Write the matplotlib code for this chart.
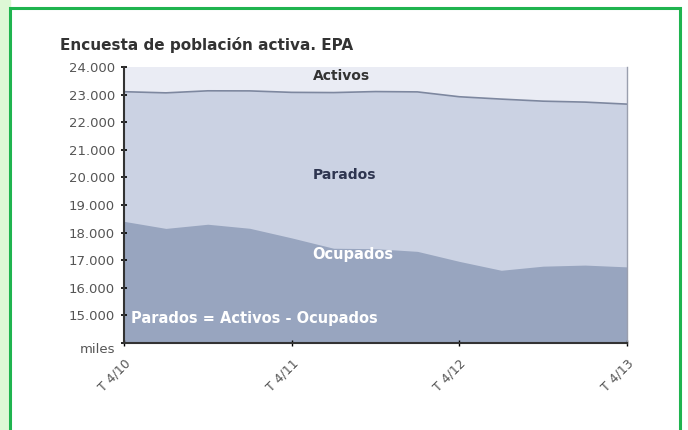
import matplotlib.pyplot as plt
from matplotlib.patches import Rectangle
from matplotlib.ticker import FuncFormatter

# datos EPA (miles de personas), trimestral T4/2010 - T4/2013
trimestres = ['T 4/10', 'T 1/11', 'T 2/11', 'T 3/11', 'T 4/11', 'T 1/12', 'T 2/12',
              'T 3/12', 'T 4/12', 'T 1/13', 'T 2/13', 'T 3/13', 'T 4/13']
activos = [23105, 23063, 23137, 23134, 23081, 23073, 23110, 23098, 22922, 22837, 22762, 22728, 22655]
ocupados = [18408, 18152, 18303, 18156, 17808, 17433, 17417, 17320, 16957, 16635, 16784, 16823, 16758]
ticks_y = [14000, 15000, 16000, 17000, 18000, 19000, 20000, 21000, 22000, 23000, 24000]
etiquetas_x = ['T 4/10', 'T 4/11', 'T 4/12', 'T 4/13']

x = list(range(len(trimestres)))
pos_x = [trimestres.index(t) for t in etiquetas_x]

fig = plt.figure(figsize=(6.88, 4.30), dpi=100)

# marco verde
fig.patches.append(Rectangle((0, 0), 10 / 688, 1, transform=fig.transFigure, color='#def8d6', zorder=0))
fig.patches.append(Rectangle((10 / 688, -0.01), 670 / 688, 422 / 430 + 0.01, transform=fig.transFigure,
                             fill=False, edgecolor='#1fb44f', lw=2.2, zorder=1))

ax = fig.add_axes([124 / 688, (430 - 343) / 430, (627 - 124) / 688, (343 - 67) / 430])
ax.set_facecolor('#eaecf4')

ax.fill_between(x, 14000, activos, color='#cbd2e3', lw=0)
ax.plot(x, activos, color='#7d879f', lw=1.2)
ax.fill_between(x, 14000, ocupados, color='#98a5bf', lw=0)

ax.set_xlim(0, len(trimestres) - 1)
ax.set_ylim(14000, 24000)
ax.set_yticks(ticks_y)
ax.yaxis.set_major_formatter(FuncFormatter(lambda v, p: 'miles' if v == 14000 else f'{int(v):,}'.replace(',', '.')))
ax.set_xticks(pos_x)
ax.set_xticklabels(etiquetas_x, rotation=45, ha='right', va='top', rotation_mode='anchor')
ax.tick_params(axis='y', labelsize=9.5, direction='inout', length=5, width=1.2, pad=4)
ax.tick_params(axis='x', labelsize=9, direction='inout', length=4, width=1, pad=8)
for lbl in ax.get_yticklabels() + ax.get_xticklabels():
    lbl.set_color('#555555')
ax.get_yticklabels()[0].set_va('top')

for s in ['left', 'bottom']:
    ax.spines[s].set_color('#333333')
    ax.spines[s].set_linewidth(1.5)
ax.spines['top'].set_visible(False)
ax.spines['right'].set_color('#9a9fae')
ax.spines['right'].set_linewidth(1)

ax.text(5.2, 23680, 'Activos', ha='center', va='center', fontsize=10, fontweight='bold', color='#333333')
ax.text(5.25, 20080, 'Parados', ha='center', va='center', fontsize=10, fontweight='bold', color='#2e3550')
ax.text(5.45, 17220, 'Ocupados', ha='center', va='center', fontsize=10.5, fontweight='bold', color='white')
ax.text(0.17, 14880, 'Parados = Activos - Ocupados', ha='left', va='center', fontsize=10.5, fontweight='bold', color='white')

fig.text(60 / 688, 1 - 45 / 430, 'Encuesta de población activa. EPA', ha='left', va='center',
         fontsize=11, fontweight='bold', color='#333333')

fig.savefig('out.png', dpi=100)
